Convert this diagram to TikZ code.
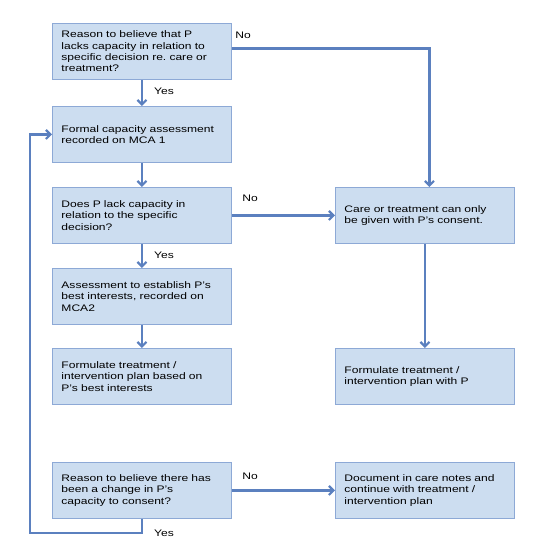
\documentclass[tikz,border=0pt]{standalone}
\usepackage{fontspec}
\setmainfont[FakeStretch=1.27]{Liberation Sans}
\usepackage{xcolor}
\usetikzlibrary{arrows.meta, shadows}

\definecolor{boxfill}{HTML}{CCDDF0}
\definecolor{boxline}{HTML}{8DA9D6}
\definecolor{flowblue}{HTML}{5B80BF}

\begin{document}
\begin{tikzpicture}[
  x=1pt, y=-1pt,
  >={Straight Barb[length=4.5pt, width=9pt]},
  stepbox/.style={draw=boxline, fill=boxfill, line width=0.9pt, anchor=north west,
    minimum width=179pt, minimum height=56pt, text width=161pt, inner xsep=9pt,
    align=left, font=\fontsize{9.5}{11.3}\selectfont,
    drop shadow={opacity=0.25, shadow xshift=1pt, shadow yshift=-1pt}},
  flow/.style={draw=flowblue, line width=2.2pt, ->},
  lab/.style={font=\fontsize{9.5}{11}\selectfont},
]
\useasboundingbox (0,0) rectangle (546,556);

% left column
\node[stepbox] (reason)   at (52,23)  {Reason to believe that P\\ lacks capacity in relation to\\ specific decision re.\ care or\\ treatment?};
\node[stepbox] (formal)   at (52,106) {Formal capacity assessment\\ recorded on MCA 1};
\node[stepbox] (lack)     at (52,187) {Does P lack capacity in\\ relation to the specific\\ decision?};
\node[stepbox] (interest) at (52,268) {Assessment to establish P's\\ best interests, recorded on\\ MCA2};
\node[stepbox] (plan)     at (52,348) {Formulate treatment /\\ intervention plan based on\\ P's best interests};
\node[stepbox] (change)   at (52,462) {Reason to believe there has\\ been a change in P's\\ capacity to consent?};

% right column
\node[stepbox] (care)     at (335,187) {Care or treatment can only\\ be given with P's consent.};
\node[stepbox] (planP)    at (335,348) {Formulate treatment /\\ intervention plan with P};
\node[stepbox] (document) at (335,462) {Document in care notes and\\ continue with treatment /\\ intervention plan};

% connectors
\draw[flow] (reason) -- (formal);
\draw[flow] ([yshift=3pt]reason.east) -| ([xshift=4.5pt]care.north);
\draw[flow] (formal) -- (lack);
\draw[flow] (lack) -- (care);
\draw[flow] (lack) -- (interest);
\draw[flow] (interest) -- (plan);
\draw[flow] (care) -- (planP);
\draw[flow] (change) -- (document);

% loop back
\coordinate (loopcorner) at (30,533);
\draw[flow] (change.south) |- (loopcorner) |- (formal.west);

% labels
\node[lab] (noA)  at (243,35)  {No};
\node[lab] (yesA) at (164,91)  {Yes};
\node[lab] (noB)  at (250,198) {No};
\node[lab] (yesB) at (164,255) {Yes};
\node[lab] (noC)  at (250,476) {No};
\node[lab] (yesC) at (164,533) {Yes};

\end{tikzpicture}
\end{document}
